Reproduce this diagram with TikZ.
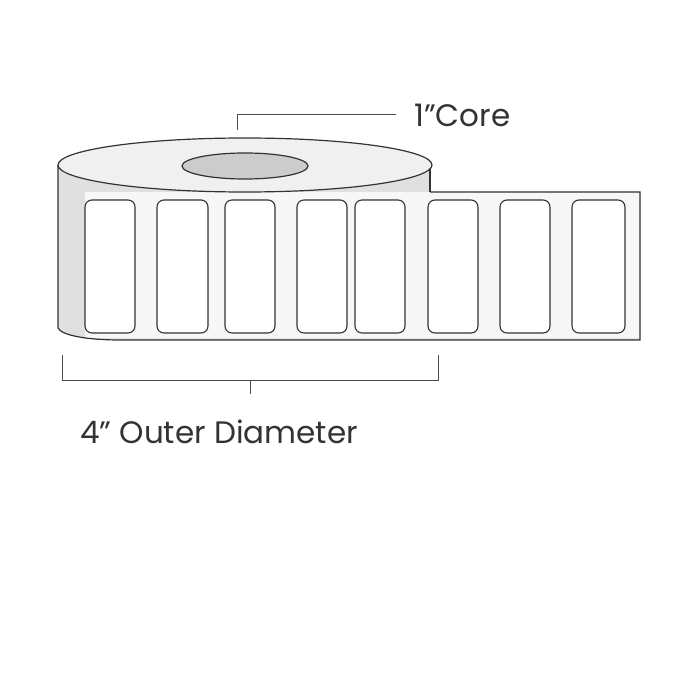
\documentclass[tikz,border=0pt]{standalone}
\usepackage{fontspec}
\setmainfont{Poppins}
\usetikzlibrary{positioning}
\tikzset{
  rollline/.style={draw=black!80, line width=1.2pt},
  labelbox/.style={draw=black!80, line width=1.1pt, fill=white, rounded corners=7pt},
  leader/.style={draw=black!70, line width=1pt},
  caption/.style={font=\fontsize{31}{36}\selectfont, text=black!80, inner sep=0pt}
}
\begin{document}
\begin{tikzpicture}[x=1pt, y=-1pt]
    \useasboundingbox[fill=white] (0,0) rectangle (700,700);
    % roll side and strip
    \fill[black!12] (58,165) -- (58,328) .. controls (62,336) and (90,340) .. (120,340) -- (640,340) -- (640,192) -- (430,192) -- (430,165) -- cycle;
    \fill[black!3] (85,192) rectangle (640,338);
    \draw[rollline] (58,165) -- (58,328) .. controls (62,336) and (90,340) .. (120,340) -- (640,340) -- (640,192) -- (430,192);
    \draw[rollline] (430,165) -- (430,192);
    % top face
    \draw[rollline, fill=black!6] (245,165) ellipse [x radius=187, y radius=27];
    \draw[rollline, fill=black!20] (245,166) ellipse [x radius=63, y radius=13];
    % labels
    \foreach \xa/\xb in {85/135, 157/208, 225/275, 297/347, 355/405, 428/478, 500/550, 572/625}
        \draw[labelbox] (\xa,200) rectangle (\xb,333);
    % core leader
    \coordinate (coretop) at (237,130);
    \node[caption, anchor=west] (core) at (414,115) {1”Core};
    \draw[leader] (coretop) |- ([xshift=-18pt]core.west);
    % diameter bracket
    \coordinate (dl) at (62,355);
    \coordinate (dr) at (438,355);
    \coordinate (dm) at (250,380);
    \draw[leader] (dl) -- (62,380) -- (438,380) -- (dr);
    \draw[leader] (dm) -- (250,394);
    \node[caption, anchor=west] (diam) at (80,432) {4” Outer Diameter};
\end{tikzpicture}
\end{document}
